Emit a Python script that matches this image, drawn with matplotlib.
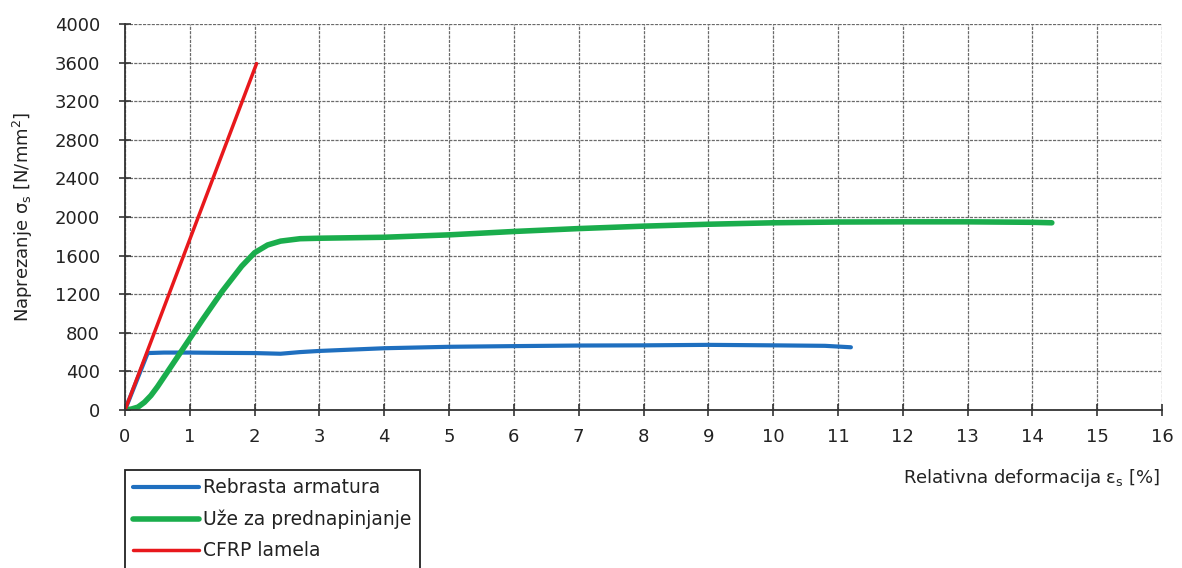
import numpy as np
import matplotlib.pyplot as plt

# stress-strain curves
rebar_x = [0, 0.35, 0.6, 1.0, 1.5, 2.0, 2.4, 2.7, 3.0, 4.0, 5.0, 6.0, 7.0, 8.0, 9.0, 10.0, 10.8, 11.2]
rebar_y = [0, 590, 595, 595, 592, 590, 583, 600, 612, 640, 655, 662, 668, 670, 675, 670, 665, 650]

strand_x = [0, 0.1, 0.2, 0.3, 0.4, 0.5, 0.6, 0.8, 1.0, 1.2, 1.5, 1.8, 2.0, 2.2, 2.4, 2.7, 3.0, 4.0, 5.0,
            6.0, 7.0, 8.0, 9.0, 10.0, 11.0, 12.0, 13.0, 14.0, 14.3]
strand_y = [0, 10, 30, 80, 150, 240, 340, 540, 740, 940, 1230, 1490, 1630, 1710, 1750, 1775, 1780, 1790, 1815,
            1850, 1880, 1905, 1925, 1940, 1948, 1950, 1950, 1945, 1940]

cfrp_x = [0, 2.03]
cfrp_y = [0, 3590]

xticks = list(range(0, 17))
yticks = list(range(0, 4001, 400))

fig = plt.figure(figsize=(11.82, 5.68), dpi=100)
ax = fig.add_axes([125 / 1182, 1 - 410 / 568, (1162 - 125) / 1182, (410 - 24) / 568])

l1, = ax.plot(rebar_x, rebar_y, color="#1f6fbf", lw=3, solid_capstyle="round", label="Rebrasta armatura")
l2, = ax.plot(strand_x, strand_y, color="#1aad4c", lw=4, solid_capstyle="round", label="Uže za prednapinjanje")
l3, = ax.plot(cfrp_x, cfrp_y, color="#e8181c", lw=2.5, solid_capstyle="round", label="CFRP lamela")

ax.set_xlim(0, 16)
ax.set_ylim(0, 4000)
ax.set_xticks(xticks)
ax.set_yticks(yticks)
ax.grid(True, color="#6a6a6a", lw=0.9, linestyle=(0, (2.5, 1)))
ax.set_axisbelow(True)
for s in ["top", "right"]:
    ax.spines[s].set_visible(False)
for s in ["left", "bottom"]:
    ax.spines[s].set_linewidth(1.3)
    ax.spines[s].set_color("#333333")
ax.tick_params(direction="inout", length=8, width=1.2, colors="#333333", labelsize=13,
               labelcolor="#222222")
ax.tick_params(axis="x", pad=9)
ax.tick_params(axis="y", pad=14)

ax.set_ylabel(r"Naprezanje $\mathregular{\sigma_s}$ [N/mm$\mathregular{^2}$]", fontsize=13, color="#222222",
              labelpad=14)
fig.text(1160 / 1182, 1 - 478 / 568, r"Relativna deformacija $\mathregular{\varepsilon_s}$ [%]",
         ha="right", va="center", fontsize=13, color="#222222")

leg = fig.legend(handles=[l1, l2, l3], loc="upper left", bbox_to_anchor=(125 / 1182, 1 - 470 / 568),
                 borderaxespad=0, fancybox=False, edgecolor="#222222", fontsize=13.5, handlelength=3.5,
                 handletextpad=0.2, labelspacing=0.65, borderpad=0.45, framealpha=1)
leg.get_frame().set_linewidth(1.3)
for t in leg.get_texts():
    t.set_color("#222222")

fig.savefig("out.png", dpi=100)
